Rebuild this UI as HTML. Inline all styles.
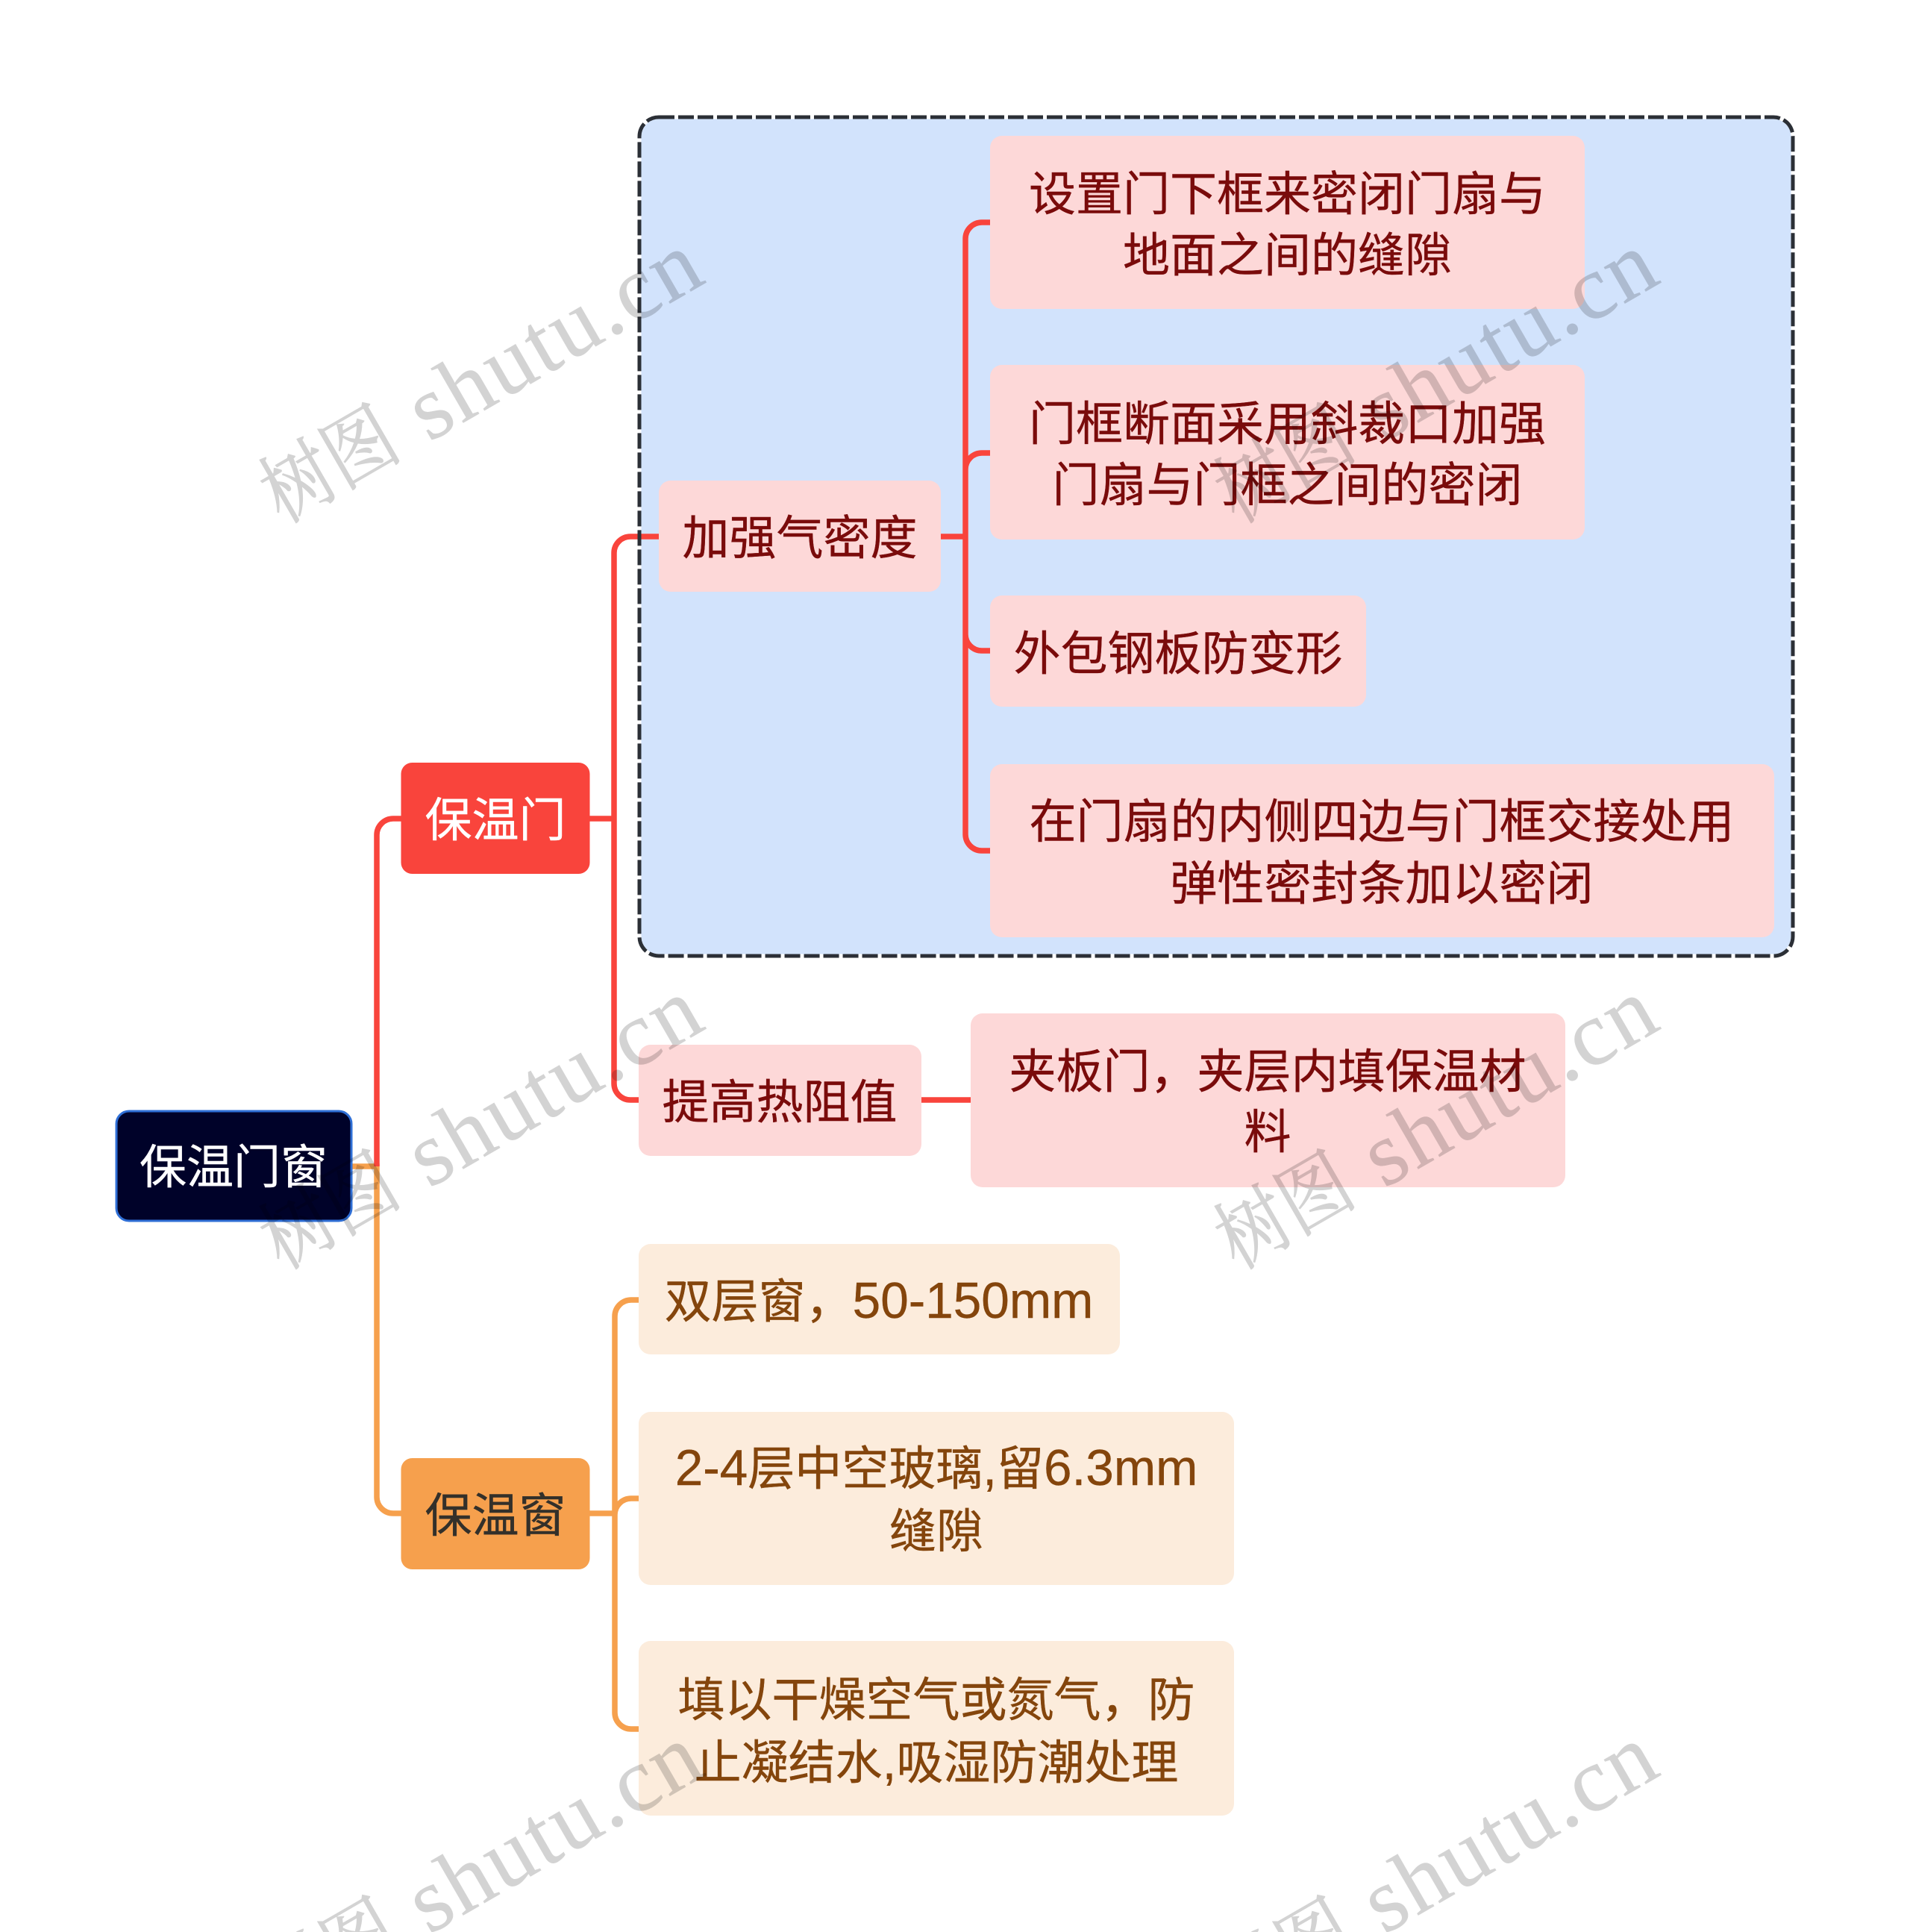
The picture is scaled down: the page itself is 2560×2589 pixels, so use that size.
<!DOCTYPE html>
<html lang="zh">
<head>
<meta charset="utf-8">
<title>保温门窗</title>
<style>
html,body{margin:0;padding:0;background:#fff;width:2560px;height:2589px;overflow:hidden}
svg{display:block}
.t{font-family:"Liberation Sans","Noto Sans CJK SC",sans-serif;font-size:63px;text-anchor:middle;stroke-width:.4px}
.t tspan{font-size:67.5px}
.r{fill:#7a0b0b;stroke:#7a0b0b}
.b{fill:#84450c;stroke:#84450c}
.wh{fill:#fff;stroke:#fff}
.d{fill:#33302a;stroke:#33302a}
.wl{font-family:"Liberation Serif",serif;font-size:122px;letter-spacing:3px;fill:#000;stroke:#000;stroke-width:.6px;opacity:.17}
.wc{font-family:"Noto Serif CJK SC","Liberation Serif",serif;font-size:106px;fill:#000;stroke:#000;stroke-width:1px;opacity:.17}
</style>
</head>
<body>
<svg xmlns="http://www.w3.org/2000/svg" width="2560" height="2589" viewBox="0 0 2560 2589">
<rect width="2560" height="2589" fill="#fff"/>

<!-- frame -->
<rect x="857" y="157" width="1546" height="1124" rx="26" fill="#d2e3fc" stroke="#fff" stroke-width="5"/>

<!-- connectors -->
<g fill="none" stroke-width="7.5">
<path stroke="#f6a04d" d="M471 1563H505V2006A22 22 0 0 0 527 2028H538"/>
<path stroke="#f6a04d" d="M790 2028H824M856 1742H846A22 22 0 0 0 824 1764V2295A22 22 0 0 0 846 2317H858M824 2030A22 22 0 0 1 846 2008H856"/>
<path stroke="#f9443c" d="M505 1563V1119A22 22 0 0 1 527 1097H538"/>
<path stroke="#f9443c" d="M790 1097H823M883 719H845A22 22 0 0 0 823 741V1452A22 22 0 0 0 845 1474H856"/>
<path stroke="#f9443c" d="M1261 719H1294M1327 298H1316A22 22 0 0 0 1294 320V1118A22 22 0 0 0 1316 1140H1327M1294 629A22 22 0 0 1 1316 607H1327M1294 850A22 22 0 0 0 1316 872H1327"/>
<path stroke="#f9443c" d="M1235 1474H1301"/>
</g>

<!-- frame dashes -->
<rect x="857" y="157" width="1546" height="1124" rx="26" fill="none" stroke="#2b2f36" stroke-width="5" stroke-dasharray="21 5"/>

<!-- nodes -->
<rect x="156" y="1489" width="315" height="147" rx="17" fill="#000229" stroke="#2f6fd6" stroke-width="3"/>
<rect x="537.5" y="1022" width="253" height="149" rx="15" fill="#f9443c"/>
<rect x="537.5" y="1954" width="253" height="149" rx="15" fill="#f6a04d"/>

<g fill="#fdd8d8">
<rect x="883" y="644" width="378" height="149" rx="16"/>
<rect x="1327" y="182" width="797" height="232" rx="16"/>
<rect x="1327" y="489" width="797" height="234" rx="16"/>
<rect x="1327" y="798" width="504" height="149" rx="16"/>
<rect x="1327" y="1024" width="1051" height="232" rx="16"/>
<rect x="856" y="1400" width="379" height="149" rx="16"/>
<rect x="1301" y="1358" width="797" height="233" rx="16"/>
</g>
<g fill="#fcecdc">
<rect x="856" y="1667" width="645" height="148" rx="16"/>
<rect x="856" y="1892" width="798" height="232" rx="16"/>
<rect x="856" y="2199" width="798" height="234" rx="16"/>
</g>

<!-- labels -->
<text class="t wh" x="313" y="1586">保温门窗</text>
<text class="t wh" x="664" y="1121">保温门</text>
<text class="t d" x="664" y="2053">保温窗</text>

<text class="t r" x="1072" y="743">加强气密度</text>
<text class="t r" x="1725.5" y="282">设置门下框来密闭门扇与</text>
<text class="t r" x="1725.5" y="364">地面之间的缝隙</text>
<text class="t r" x="1725.5" y="590">门框断面采用斜裁口加强</text>
<text class="t r" x="1725.5" y="672">门扇与门框之间的密闭</text>
<text class="t r" x="1579" y="898">外包钢板防变形</text>
<text class="t r" x="1852" y="1123">在门扇的内侧四边与门框交接处用</text>
<text class="t r" x="1852" y="1206">弹性密封条加以密闭</text>
<text class="t r" x="1045" y="1499">提高热阻值</text>
<text class="t r" x="1699" y="1458">夹板门，夹层内填保温材</text>
<text class="t r" x="1699" y="1539">料</text>

<text class="t b" x="1178" y="1766">双层窗，<tspan>50-150mm</tspan></text>
<text class="t b" x="1255" y="1990"><tspan>2-4</tspan>层中空玻璃<tspan>,</tspan>留<tspan>6.3mm</tspan></text>
<text class="t b" x="1255" y="2074">缝隙</text>
<text class="t b" x="1255" y="2300">填以干燥空气或氮气，防</text>
<text class="t b" x="1255" y="2384">止凝结水<tspan>,</tspan>吸湿防潮处理</text>

<!-- watermarks -->
<text class="wc" transform="translate(378 702) rotate(-30) scale(.89 1)">树图</text>
<text class="wl" transform="translate(575 593) rotate(-30)">shutu.cn</text>
<text class="wc" transform="translate(1658 702) rotate(-30) scale(.89 1)">树图</text>
<text class="wl" transform="translate(1855 593) rotate(-30)">shutu.cn</text>
<text class="wc" transform="translate(378 1702) rotate(-30) scale(.89 1)">树图</text>
<text class="wl" transform="translate(575 1593) rotate(-30)">shutu.cn</text>
<text class="wc" transform="translate(1658 1702) rotate(-30) scale(.89 1)">树图</text>
<text class="wl" transform="translate(1855 1593) rotate(-30)">shutu.cn</text>
<text class="wc" transform="translate(378 2702) rotate(-30) scale(.89 1)">树图</text>
<text class="wl" transform="translate(575 2593) rotate(-30)">shutu.cn</text>
<text class="wc" transform="translate(1658 2702) rotate(-30) scale(.89 1)">树图</text>
<text class="wl" transform="translate(1855 2593) rotate(-30)">shutu.cn</text>
</svg>
</body>
</html>
